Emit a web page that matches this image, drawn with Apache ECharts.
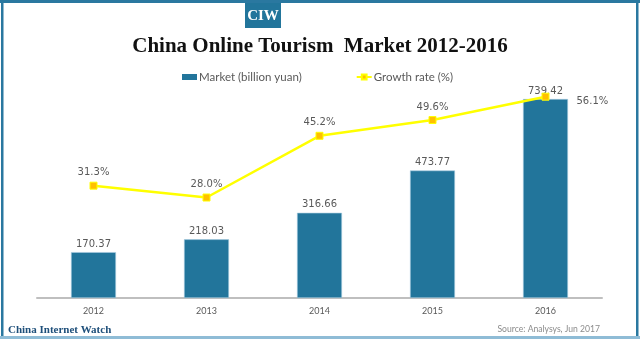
<!DOCTYPE html>
<html><head><meta charset="utf-8">
<script src="https://cdn.jsdelivr.net/npm/echarts@6/dist/echarts.min.js"></script>
<style>html,body{margin:0;padding:0;background:#fff}#c{width:640px;height:339px}</style>
</head><body><div id="c"></div>
<script>
const categories = ['2012','2013','2014','2015','2016'];
const marketValues = [170.37, 218.03, 316.66, 473.77, 739.42];
const growthValues = [31.3, 28.0, 45.2, 49.6, 56.1];
const growthLabels = ['31.3%','28.0%','45.2%','49.6%','56.1%'];

const chart = echarts.init(document.getElementById('c'));
const sans = 'Lato, "DejaVu Sans", sans-serif';
const labelFont = '"DejaVu Sans", sans-serif';
chart.setOption({
  animation: false,
  backgroundColor: '#fff',
  title: {
    text: 'China Online Tourism  Market 2012-2016',
    left: 'center', top: 31,
    textStyle: { fontFamily: '"Liberation Serif", serif', fontWeight: 'bold', fontSize: 21, color: '#111' }
  },
  legend: {
    top: 66, left: 177, itemGap: 54,
    textStyle: { color: '#595959', fontSize: 11.5, fontFamily: sans, padding: [0, 0, 0, -3] },
    data: [
      { name: 'Market (billion yuan)', icon: 'rect', itemStyle: { color: '#22759b', borderWidth: 0 } },
      { name: 'Growth rate (%)' }
    ],
    itemWidth: 15, itemHeight: 6
  },
  grid: { left: 37, right: 38, top: 82.7, bottom: 41 },
  xAxis: {
    type: 'category', data: categories,
    axisLine: { lineStyle: { color: '#bfbfbf', width: 2 } },
    axisTick: { show: false },
    axisLabel: { color: '#595959', fontSize: 9, fontFamily: sans, margin: 9 }
  },
  yAxis: [
    { type: 'value', min: 0, max: 800, show: false, splitLine: { show: false } },
    { type: 'value', min: 0, max: 60, show: false, splitLine: { show: false } }
  ],
  series: [
    {
      name: 'Market (billion yuan)', type: 'bar', data: marketValues, barWidth: 45,
      itemStyle: { color: '#22759b', borderColor: '#a9cde0', borderWidth: 0.6 },
      label: { show: true, position: 'top', color: '#595959', fontSize: 10, fontFamily: labelFont, distance: 3 }
    },
    {
      name: 'Growth rate (%)', type: 'line', yAxisIndex: 1,
      data: growthValues.map((v, i) => i === growthValues.length - 1
        ? { value: v, label: { position: 'right', distance: 27, offset: [0, 5] } }
        : v),
      symbol: 'rect', symbolSize: 7,
      lineStyle: { color: '#ffff00', width: 2.5 },
      itemStyle: { color: '#ffc000', borderColor: '#ffff00', borderWidth: 1 },
      label: {
        show: true, position: 'top', color: '#595959', fontSize: 10, fontFamily: labelFont, distance: 4,
        formatter: p => growthLabels[p.dataIndex]
      },
      z: 5
    }
  ],
  graphic: [
    { type: 'rect', shape: { x: 0, y: 0, width: 640, height: 3 }, style: { fill: '#2a78a0' } },
    { type: 'rect', shape: { x: 1, y: 0, width: 2.5, height: 339 }, style: { fill: '#2a78a0' } },
    { type: 'rect', shape: { x: 636, y: 0, width: 2.5, height: 339 }, style: { fill: '#2a78a0' } },
    { type: 'rect', shape: { x: 0, y: 336, width: 640, height: 3 }, style: { fill: '#8fbcd6' } },
    { type: 'rect', shape: { x: 245, y: 3, width: 36, height: 25 }, style: { fill: '#22759b' } },
    { type: 'text', x: 263, y: 16, style: { text: 'CIW', fill: '#fff', font: 'bold 15px "Liberation Serif", serif', textAlign: 'center', textVerticalAlign: 'middle' } },
    { type: 'text', x: 8, y: 330, style: { text: 'China Internet Watch', fill: '#1e4f7a', font: 'bold 11px "Liberation Serif", serif', textVerticalAlign: 'middle' } },
    { type: 'text', x: 600, y: 329, style: { text: 'Source: Analysys, Jun 2017', fill: '#8c8c8c', font: '8.6px ' + sans, textAlign: 'right', textVerticalAlign: 'middle' } }
  ]
});
</script></body></html>
